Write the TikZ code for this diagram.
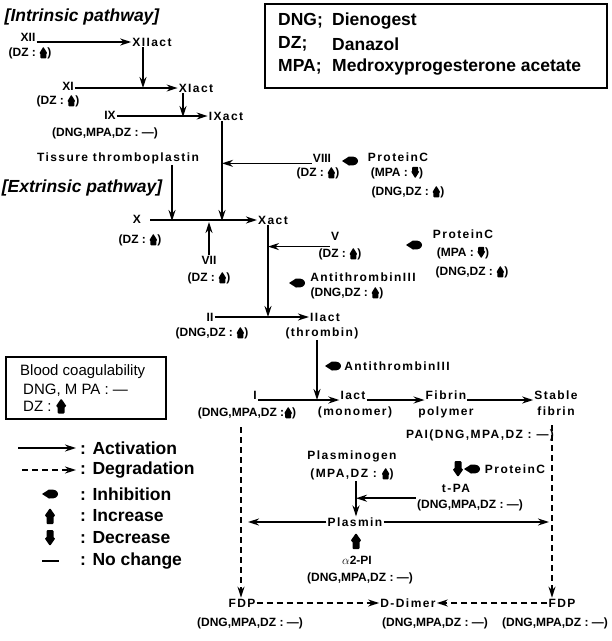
\documentclass[tikz,border=0pt]{standalone}
\usepackage{fontspec}
\setmainfont{Liberation Sans}
\newfontfamily\trk[LetterSpace=12]{Liberation Sans}
\usetikzlibrary{arrows.meta}

% small marks used inside the labels
\newcommand{\upmk}{\tikz[baseline=1.5pt]\fill[rounded corners=0.8pt] (-3pt,0pt) -- (-3pt,5pt) -- (-4pt,5pt) -- (0pt,11.5pt) -- (4pt,5pt) -- (3pt,5pt) -- (3pt,0pt) -- cycle;}
\newcommand{\dnmk}{\tikz[baseline=1.5pt]\fill[rounded corners=0.8pt] (-3pt,11.5pt) -- (-3pt,6.5pt) -- (-4pt,6.5pt) -- (0pt,0pt) -- (4pt,6.5pt) -- (3pt,6.5pt) -- (3pt,11.5pt) -- cycle;}
\newcommand{\bigupmk}{\tikz[baseline=2pt]\fill[rounded corners=1pt] (-3.5pt,0pt) -- (-3.5pt,7pt) -- (-5.5pt,7pt) -- (0pt,15pt) -- (5.5pt,7pt) -- (3.5pt,7pt) -- (3.5pt,0pt) -- cycle;}

\tikzset{
	inh/.pic  = {\fill (-8pt,0pt) -- (-1pt,-4.5pt) .. controls (5pt,-5pt) and (8pt,-3pt) .. (8pt,0pt) .. controls (8pt,3pt) and (5pt,5pt) .. (-1pt,4.5pt) -- cycle;},
	incr/.pic = {\fill[rounded corners=1pt] (-3.5pt,-8pt) -- (-3.5pt,0pt) -- (-5.5pt,0pt) -- (0pt,8pt) -- (5.5pt,0pt) -- (3.5pt,0pt) -- (3.5pt,-8pt) -- cycle;},
	decr/.pic = {\fill[rounded corners=1pt] (-3.5pt,8pt) -- (-3.5pt,0pt) -- (-5.5pt,0pt) -- (0pt,-8pt) -- (5.5pt,0pt) -- (3.5pt,0pt) -- (3.5pt,8pt) -- cycle;}
}

\begin{document}
\begin{tikzpicture}[
	x=1pt, y=-1pt,
	lbl/.style = {font=\bfseries\fontsize{12}{13}\selectfont, inner sep=1pt},
	tl/.style  = {lbl, font=\trk\bfseries\fontsize{12}{13}\selectfont},
	hd/.style  = {font=\bfseries\itshape\fontsize{17.5}{18}\selectfont, inner sep=0pt},
	kt/.style  = {font=\bfseries\fontsize{17.5}{18}\selectfont, inner sep=0pt, anchor=west},
	lg/.style  = {font=\bfseries\fontsize{17.5}{18}\selectfont, inner sep=0pt, anchor=west},
	bc/.style  = {font=\fontsize{15}{16}\selectfont, inner sep=0pt, anchor=west},
	frame/.style = {draw, line width=1.5pt, inner sep=0pt},
	act/.style = {-{Stealth[length=11pt,width=7pt]}, line width=1.6pt},
	deg/.style = {act, dash pattern=on 6pt off 4pt},
	]
	\useasboundingbox (0,0) rectangle (612,641);

	% === === === Key === === ===
	\node[frame, minimum width=342pt, minimum height=84pt] (key) at (436,46) {};
	\node[kt] (dng)  at (278,21) {DNG;};
	\node[kt] (dngn) at (332,21) {Dienogest};
	\node[kt] (dz)   at (278,44) {DZ;};
	\node[kt] (dzn)  at (332,44) {Danazol};
	\node[kt] (mpa)  at (278,67) {MPA;};
	\node[kt] (mpan) at (332,67) {Medroxyprogesterone acetate};

	% === === === Intrinsic pathway === === ===
	\node[hd] (intr) at (82,17) {[Intrinsic pathway]};
	\node[lbl] (xii)    at (28,37)  {XII};
	\node[lbl] (xiidz)  at (30,53)  {(DZ : \upmk)};
	\node[tl]  (xiia)   at (152,42) {XIIact};
	\node[lbl] (xi)     at (68,86)  {XI};
	\node[lbl] (xidz)   at (58,101) {(DZ : \upmk)};
	\node[tl]  (xia)    at (196,88) {XIact};
	\node[lbl] (ix)     at (110,115) {IX};
	\node[lbl] (ixdz)   at (105,133) {(DNG,MPA,DZ : \textemdash)};
	\node[tl]  (ixa)    at (226,116) {IXact};
	\node[tl]  (tt)     at (118,158) {Tissure thromboplastin};

	\coordinate (j1) at (143,88);
	\coordinate (j2) at (183,117);
	\draw[act] (xii.east |- xiia.west) -- (xiia.west);
	\draw[act] (xiia.south -| j1) -- (j1);
	\draw[act] (xi.east |- xia.west) -- (xia.west);
	\draw[act] (xia.south -| j2) -- (j2);
	\draw[act] (ix.east |- ixa.west) -- (ixa.west);

	% === === === Extrinsic pathway === === ===
	\node[hd] (extr) at (82,188) {[Extrinsic pathway]};
	\node[lbl] (x)      at (137,219) {X};
	\node[lbl] (xdz)    at (140,240) {(DZ : \upmk)};
	\node[tl]  (xa)     at (273,220) {Xact};
	\node[lbl] (vii)    at (209,260) {VII};
	\node[lbl] (viidz)  at (209,278) {(DZ : \upmk)};
	\node[lbl] (viii)   at (322,158) {VIII};
	\node[lbl] (viiidz) at (318,173) {(DZ : \upmk)};
	\node[tl]  (pca)    at (398,157) {ProteinC};
	\node[lbl] (pcampa) at (397,173) {(MPA : \dnmk)};
	\node[lbl] (pcadz)  at (408,192) {(DNG,DZ : \upmk)};
	\node[lbl] (v)      at (335,236) {V};
	\node[lbl] (vdz)    at (340,254) {(DZ : \upmk)};
	\node[tl]  (pcb)    at (463,234) {ProteinC};
	\node[lbl] (pcbmpa) at (463,253) {(MPA : \dnmk)};
	\node[lbl] (pcbdz)  at (472,272) {(DNG,DZ : \upmk)};
	\node[tl]  (ata)    at (363,277) {AntithrombinIII};
	\node[lbl] (atadz)  at (347,293) {(DNG,DZ : \upmk)};

	\coordinate (j3) at (172,221);
	\coordinate (j4) at (222,221);
	\coordinate (j5) at (209,222);
	\coordinate (j6) at (268,317);
	\draw[act] (tt.south -| j3) -- (j3);
	\draw[act] (ixa.south -| j4) -- (j4);
	\draw[act] ([xshift=8pt]x.east |- xa.west) -- (xa.west);
	\draw[act] (vii.north -| j5) -- (j5);
	\draw[act] (viii.west |- viii.south) -- (j4 |- viii.south);
	\draw[act] (xa.south -| j6) -- (j6);
	\draw[act] (v.west |- vdz.north) -- (j6 |- vdz.north);
	\pic at (350,161) {inh};
	\pic at (414,245) {inh};
	\pic at (297,283) {inh};

	% === === === Common pathway === === ===
	\node[lbl] (ii)    at (210,317) {II};
	\node[lbl] (iidz)  at (212,333) {(DNG,DZ : \upmk)};
	\node[tl]  (iia)   at (325,317) {IIact};
	\node[tl]  (thr)   at (322,333) {(thrombin)};
	\node[tl]  (atb)   at (397,366) {AntithrombinIII};
	\node[lbl] (i)     at (255,395) {I};
	\node[lbl] (idz)   at (247,413) {(DNG,MPA,DZ :\upmk)};
	\node[tl]  (ia)    at (353,395) {Iact};
	\node[tl]  (mono)  at (355,412) {(monomer)};
	\node[tl]  (fib)   at (446,395) {Fibrin};
	\node[tl]  (poly)  at (446,412) {polymer};
	\node[tl]  (stab)  at (556,395) {Stable};
	\node[tl]  (sfib)  at (556,411) {fibrin};

	\coordinate (j7) at (317,400);
	\draw[act] (ii.east) -- (iia.west);
	\draw[act] (thr.south -| j7) -- (j7);
	\draw[act] (i.east |- j7) -- (ia.west |- j7);
	\draw[act] (ia.east |- j7) -- (fib.west |- j7);
	\draw[act] (fib.east |- j7) -- (stab.west |- j7);
	\pic at (333,366) {inh};

	% === === === Fibrinolysis === === ===
	\node[tl]  (pai)   at (480,435) {PAI(DNG,MPA,DZ : \textemdash)};
	\node[tl]  (pg)    at (352,456) {Plasminogen};
	\node[tl]  (pgdz)  at (352,474) {(MPA,DZ : \upmk)};
	\node[tl]  (pcc)   at (515,469) {ProteinC};
	\node[tl]  (tpa)   at (456,488) {t-PA};
	\node[lbl] (tpadz) at (470,505) {(DNG,MPA,DZ : \textemdash)};
	\node[tl]  (plm)   at (355,522) {Plasmin};
	\node[lbl] (a2pi)  at (357,560) {$\alpha$2-PI};
	\node[lbl] (a2dz)  at (360,578) {(DNG,MPA,DZ : \textemdash)};
	\node[tl]  (fdpl)  at (242,603) {FDP};
	\node[lbl] (fdpldz) at (250,623) {(DNG,MPA,DZ : \textemdash)};
	\node[tl]  (dd)    at (408,603) {D-Dimer};
	\node[lbl] (dddz)  at (435,623) {(DNG,MPA,DZ : \textemdash)};
	\node[tl]  (fdpr)  at (562,603) {FDP};
	\node[lbl] (fdprdz) at (555,623) {(DNG,MPA,DZ : \textemdash)};

	\coordinate (j8) at (241,427);
	\coordinate (j9) at (552,425);
	\coordinate (j10) at (356,493);
	\draw[deg] (j8) -- (j8 |- fdpl.north);
	\draw[deg] (j9) -- (j9 |- fdpr.north);
	\draw[act] (pgdz.south -| j10) -- (j10 |- plm.north);
	\draw[act] (tpadz.north west) -- (j10 |- tpadz.north west);
	\draw[act] (plm.west) -- ([xshift=7pt]j8 |- plm.west);
	\draw[act] (plm.east) -- ([xshift=-3pt]j9 |- plm.east);
	\draw[deg] (fdpl.east) -- (dd.west);
	\draw[deg] (fdpr.west) -- (dd.east);
	\pic at (458,469) {decr};
	\pic at (472,469) {inh};
	\pic at (356,541) {incr};

	% === === === Blood coagulability === === ===
	\node[frame, minimum width=160pt, minimum height=62pt] (bcbox) at (86,388) {};
	\node[bc] (bc1) at (20,372) {Blood coagulability};
	\node[bc] (bc2) at (23,390) {DNG, M PA : \textemdash};
	\node[bc] (bc3) at (23,406) {DZ : \bigupmk};

	% === === === Legend === === ===
	\node[lg] (lact) at (80,448) {: Activation};
	\node[lg] (ldeg) at (80,470) {: Degradation};
	\node[lg] (linh) at (80,494) {: Inhibition};
	\node[lg] (linc) at (80,516) {: Increase};
	\node[lg] (ldec) at (80,538) {: Decrease};
	\node[lg] (lnoc) at (80,561) {: No change};
	\coordinate (la) at (18,448);
	\coordinate (ld) at (22,470);
	\draw[act] (la) -- ([xshift=-4pt]lact.west);
	\draw[deg] (ld) -- ([xshift=-4pt]ldeg.west);
	\pic at (50,494) {inh};
	\pic at (50,516) {incr};
	\pic at (50,538) {decr};
	\draw[line width=2pt] (42,561) -- (59,561);

\end{tikzpicture}
\end{document}
